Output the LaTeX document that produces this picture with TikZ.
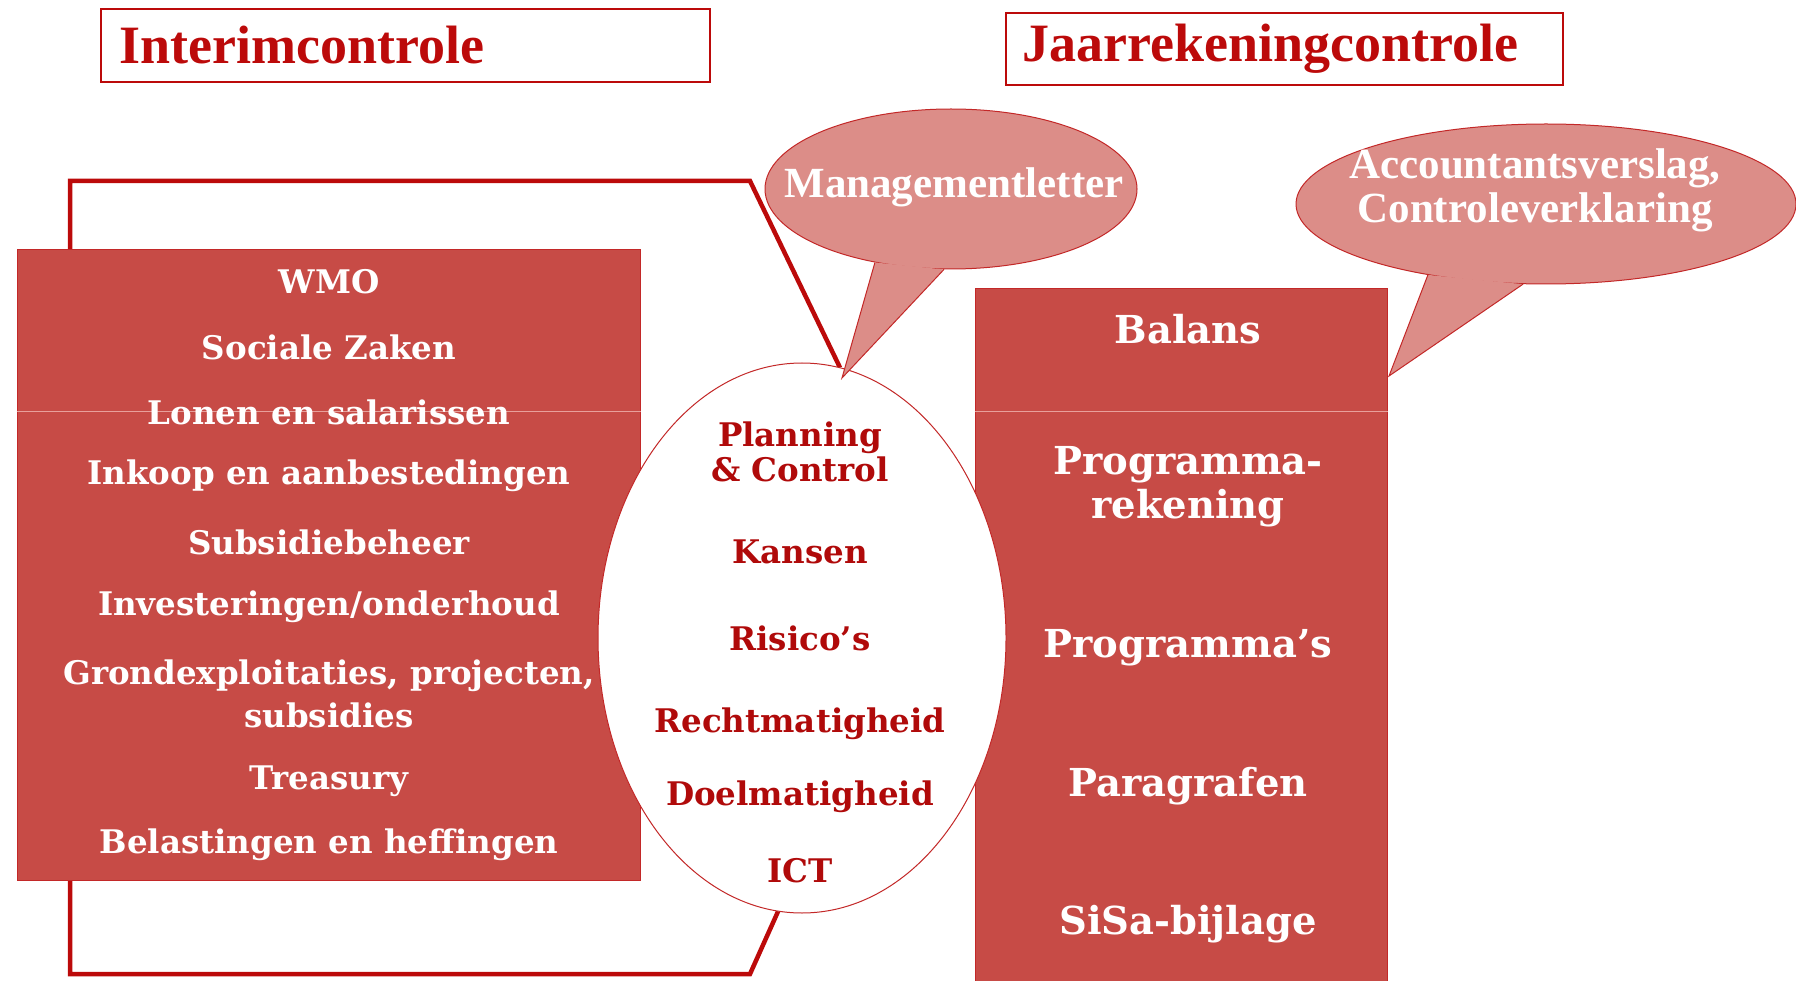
\documentclass[tikz,border=0pt]{standalone}
\usepackage{fontspec}
\setmainfont{DejaVu Serif}
\newfontfamily\condfont{Liberation Serif}
\usetikzlibrary{shapes.geometric,positioning}

\definecolor{darkred}{RGB}{188,10,10}
\definecolor{blockred}{RGB}{199,75,70}
\definecolor{bubblered}{RGB}{220,141,136}
\definecolor{edgered}{RGB}{195,40,40}
\definecolor{seamred}{RGB}{232,160,155}
\definecolor{textred}{RGB}{176,10,10}

\tikzset{
  titlebox/.style={draw=darkred,line width=1.5pt,inner sep=0pt},
  titletext/.style={text=darkred,font=\condfont\bfseries\fontsize{54}{60}\selectfont,inner sep=0pt},
  frame/.style={draw=darkred,line width=4.5pt},
  block/.style={fill=blockred,draw=edgered,line width=1pt,inner sep=0pt},
  blocktext/.style={text=white,font=\bfseries\fontsize{32.5}{43}\selectfont,align=center,inner sep=0pt},
  bigtext/.style={text=white,font=\bfseries\fontsize{38.5}{44}\selectfont,align=center,inner sep=0pt},
  elltext/.style={text=textred,font=\bfseries\fontsize{32.5}{35}\selectfont,align=center,inner sep=0pt},
  bubble/.style={ellipse,fill=bubblered,draw=edgered,line width=1pt,inner sep=0pt},
  bubbletext/.style={text=white,font=\condfont\bfseries\fontsize{43}{44}\selectfont,align=center,inner sep=0pt},
  seam/.style={draw=seamred,line width=1pt}
}

\begin{document}
\begin{tikzpicture}[x=1pt,y=-1pt]
\useasboundingbox (0,0) rectangle (1796,981);

% titels
\node[titlebox,minimum width=609pt,minimum height=73pt] (interim) at (405.5,45.5) {};
\node[titletext,anchor=west,right=19pt of interim.west] (interimtxt) {Interimcontrole};
\node[titlebox,minimum width=557pt,minimum height=72pt] (jaar) at (1284.5,49) {};
\node[titletext,anchor=west,right=17pt of jaar.west] (jaartxt) {Jaarrekeningcontrole};

% kader om de interimcontrole
\coordinate (ftr) at (750,181);
\coordinate (ftl) at (70,181);
\coordinate (fbr) at (750,974);
\coordinate (fbl) at (70,974);
\node[block,minimum width=623pt,minimum height=630pt] (ibox) at (328.5,565) {};
\node[block,minimum width=412pt,minimum height=692pt] (jbox) at (1181,635) {};
\node[ellipse,minimum width=408pt,minimum height=550pt,inner sep=0pt] (ell) at (802,638) {};
\draw[frame] (ell.82) -- (ftr) -- (ftl) -- (ftl |- ibox.north);
\draw[frame] (ell.265) -- (fbr) -- (fbl) -- (fbl |- ibox.south);
\node[block,minimum width=623pt,minimum height=630pt] at (ibox) {};
\draw[seam] (ibox.west |- 0,411) -- (ibox.east |- 0,411);
\draw[seam] (jbox.west |- 0,411) -- (jbox.east |- 0,411);
\node[ellipse,draw=edgered,fill=white,line width=1pt,minimum width=408pt,minimum height=550pt,inner sep=0pt] at (ell) {};

% tekstballonnen
\node[bubble,minimum width=372pt,minimum height=160pt] (mgmt) at (951,189) {};
\coordinate (tip1) at (842,378);
\fill[bubblered] (mgmt.224) -- (tip1) -- (mgmt.265) -- cycle;
\draw[edgered,line width=1pt] (mgmt.224) -- (tip1) -- (mgmt.265);
\node[bubbletext] (mgmttxt) at (954,187) {Managementletter};

\node[bubble,minimum width=500pt,minimum height=160pt] (acc) at (1546,204) {};
\coordinate (tip2) at (1389,376);
\fill[bubblered] (acc.211) -- (tip2) -- (acc.254) -- cycle;
\draw[edgered,line width=1pt] (acc.211) -- (tip2) -- (acc.254);
\node[bubbletext] (acctxt) at (1535,190) {Accountantsverslag,\\Controleverklaring};

% interim onderwerpen
\node[blocktext] (wmo) at (329,282) {WMO};
\node[blocktext] (soc) at (329,347) {Sociale Zaken};
\node[blocktext] (lon) at (329,412) {Lonen en salarissen};
\node[blocktext] (ink) at (329,476) {Inkoop en aanbestedingen};
\node[blocktext] (sub) at (329,542) {Subsidiebeheer};
\node[blocktext] (inv) at (329,607) {Investeringen/onderhoud};
\node[blocktext] (gro) at (329,694) {Grondexploitaties, projecten,\\subsidies};
\node[blocktext] (tre) at (329,781) {Treasury};
\node[blocktext] (bel) at (329,845) {Belastingen en heffingen};

% midden
\node[elltext] (pc) at (800,452) {Planning\\\& Control};
\node[elltext] (kan) at (800,552) {Kansen};
\node[elltext] (ris) at (800,638) {Risico’s};
\node[elltext] (rec) at (800,724) {Rechtmatigheid};
\node[elltext] (doe) at (800,797) {Doelmatigheid};
\node[elltext] (ict) at (800,871) {ICT};

% jaarrekening onderdelen
\node[bigtext] (bal) at (1188,329) {Balans};
\node[bigtext] (prr) at (1188,487) {Programma-\\rekening};
\node[bigtext] (prs) at (1188,648) {Programma’s};
\node[bigtext] (par) at (1188,786) {Paragrafen};
\node[bigtext] (sis) at (1188,924) {SiSa-bijlage};
\end{tikzpicture}
\end{document}
